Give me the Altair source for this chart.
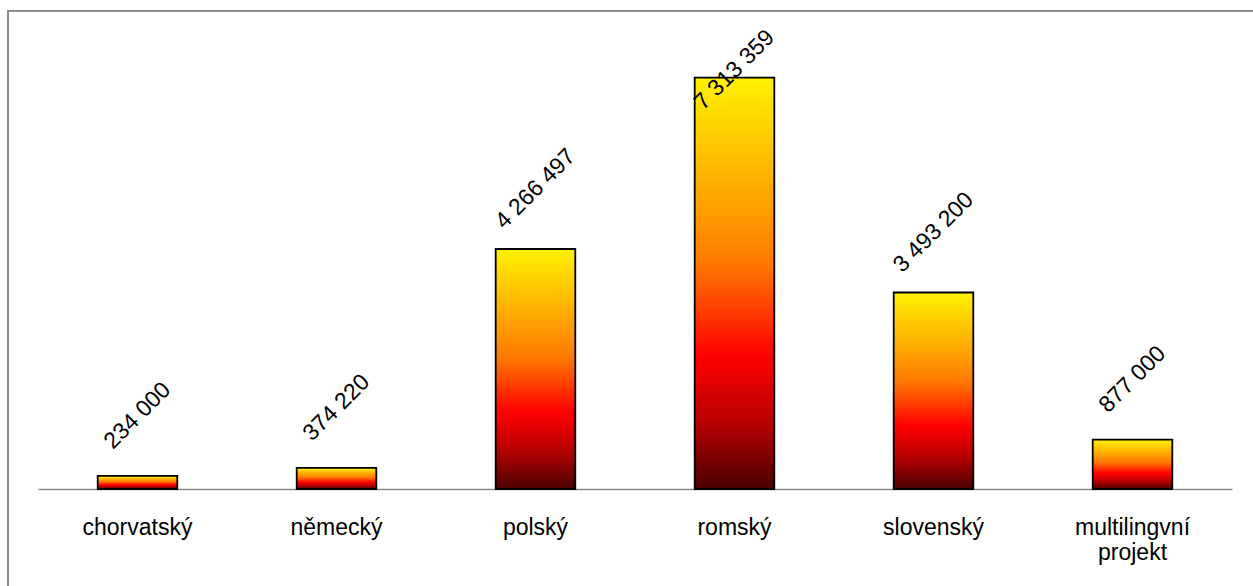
import altair as alt
import pandas as pd

# Support by language project (CZK)
categories = ["chorvatský", "německý", "polský", "romský", "slovenský", "multilingvní|projekt"]
amounts = [234000, 374220, 4266497, 7313359, 3493200, 877000]
amount_labels = ["234 000", "374 220", "4 266 497", "7 313 359", "3 493 200", "877 000"]

df = pd.DataFrame({"jazyk": categories, "castka": amounts, "popisek": amount_labels})

Y_MAX = 8000000

x_enc = alt.X(
    "jazyk:N",
    sort=categories,
    title=None,
    scale=alt.Scale(paddingInner=0.6, paddingOuter=0.3),
    axis=alt.Axis(
        labelAngle=0,
        labelFont="Liberation Sans",
        labelFontSize=23,
        labelColor="#000000",
        labelPadding=27,
        labelLineHeight=25,
        labelExpr="split(datum.label, '|')",
        ticks=False,
        domainColor="#8c8c8c",
        domainWidth=1.5,
        grid=False,
    ),
)
y_scale = alt.Scale(domain=[0, Y_MAX], nice=False)

fire = alt.Gradient(
    gradient="linear",
    x1=0, x2=0, y1=1, y2=0,
    stops=[
        alt.GradientStop(color="#4a0000", offset=0.0),
        alt.GradientStop(color="#b00000", offset=0.15),
        alt.GradientStop(color="#ff0000", offset=0.32),
        alt.GradientStop(color="#ff7a00", offset=0.55),
        alt.GradientStop(color="#ffb000", offset=0.75),
        alt.GradientStop(color="#fff200", offset=1.0),
    ],
)

bars = alt.Chart(df).mark_bar(color=fire, stroke="#000000", strokeWidth=1.8).encode(
    x=x_enc,
    y=alt.Y("castka:Q", scale=y_scale, axis=None),
)

# value labels sit diagonally above each bar, kept inside the top of the plot
labels = alt.Chart(df).transform_calculate(
    pos="min(datum.castka + 1070000, 7450000)"
).mark_text(
    angle=315,
    align="center",
    baseline="middle",
    font="Liberation Sans",
    fontSize=23,
    color="#000000",
).encode(
    x=alt.X("jazyk:N", sort=categories),
    y=alt.Y("pos:Q", scale=y_scale),
    text="popisek:N",
)

# outer frame of the chart
frame = alt.Chart(df).mark_rect(
    fill=None, stroke="#8c8c8c", strokeWidth=2
).encode(
    x=alt.value(-30), x2=alt.value(1300), y=alt.value(-28), y2=alt.value(700)
)

chart = alt.layer(frame, bars, labels).properties(
    width=1194,
    height=450,
    autosize=alt.AutoSizeParams(type="none"),
    padding={"left": 38, "top": 39, "right": 21, "bottom": 97},
).configure(
    background="#ffffff",
    view=alt.ViewConfig(strokeWidth=0, stroke="transparent"),
)

chart.save("out.html", embed_options={"renderer": "svg", "actions": False})
